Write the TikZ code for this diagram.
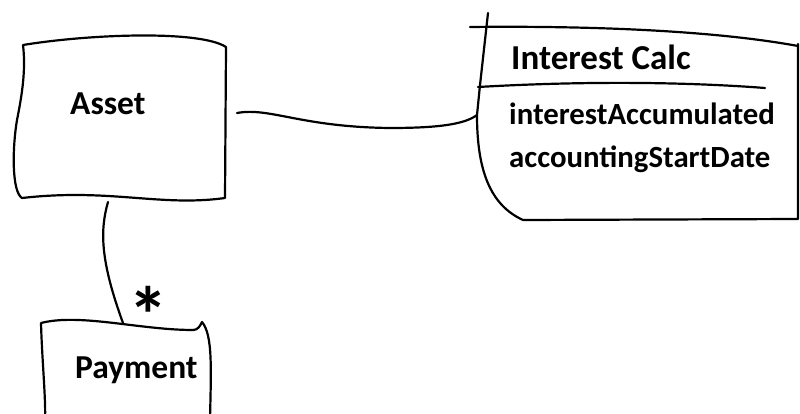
\documentclass[tikz,border=0pt]{standalone}
\usepackage{fontspec}
\setmainfont{Carlito}
\tikzset{
  sketch/.style={line width=2.2pt, line cap=round, line join=round},
  lbl/.style={inner sep=0pt, anchor=base west},
  bigtxt/.style={lbl, font=\fontsize{33.5}{40}\selectfont\bfseries},
  clstxt/.style={lbl, font=\fontsize{35}{42}\selectfont\bfseries},
  attrtxt/.style={lbl, font=\fontsize{30.8}{38}\selectfont\bfseries},
  multtxt/.style={inner sep=0pt, font=\fontsize{80}{80}\selectfont\bfseries},
}
\begin{document}
\begin{tikzpicture}[x=1pt,y=-1pt]
\useasboundingbox (0,0) rectangle (800,414);
\clip (0,0) rectangle (800,414);

% Asset box
\draw[sketch] (23,45) .. controls (90,34) and (200,30) .. (226,47)
  -- (225,198) .. controls (160,207) and (110,188) .. (22,198)
  .. controls (12,192) and (12,150) .. (17,120)
  .. controls (22,95) and (26,70) .. cycle;
\node[bigtxt] (asset) at (70,115) {Asset};

% Interest Calc box
\draw[sketch] (470,27) .. controls (560,26) and (700,28) .. (798,46);
\draw[sketch] (488,13) -- (480,85) -- (477,115)
  .. controls (477,170) and (490,205) .. (523,220) -- (798,219) -- (798,44);
\draw[sketch] (478,87) .. controls (600,80) and (700,83) .. (765,88);
\node[clstxt] (ic) at (511,70) {Interest Calc};
\node[attrtxt] (attr1) at (509,125) {interestAccumulated};
\node[attrtxt] (attr2) at (509,168) {accountingStartDate};

% Payment box
\draw[sketch] (45,420) .. controls (46,400) and (42,360) .. (41,323)
  .. controls (80,313) and (140,330) .. (193,330)
  .. controls (198,330) and (200,326) .. (202,322)
  .. controls (213,335) and (211,370) .. (210,420);
\node[bigtxt] (payment) at (75,378) {Payment};

% connector endpoints
\coordinate (assetR) at (237,113);
\coordinate (icL) at (477,115);
\coordinate (assetB) at (108,202);
\coordinate (payT) at (123,323);

\draw[sketch] (assetR) .. controls (270,107) and (300,127) .. (390,128)
  .. controls (440,128) and (465,124) .. (icL);
\draw[sketch] (assetB) .. controls (100,230) and (100,260) .. (payT);
\node[multtxt, anchor=north] (mult) at (148,292) {\raisebox{-0.34em}[0.30em][0pt]{*}};
\end{tikzpicture}
\end{document}
